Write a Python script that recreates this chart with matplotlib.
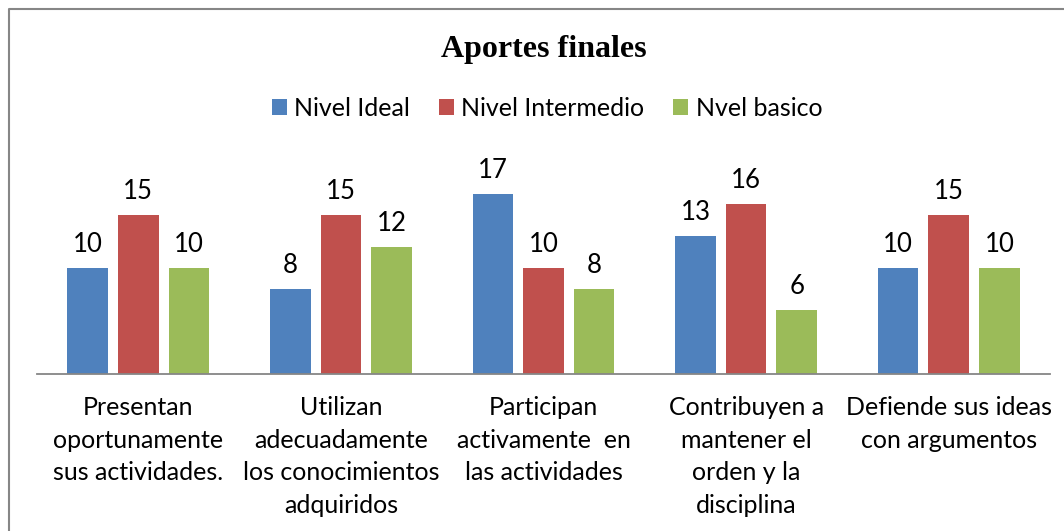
import numpy as np
import matplotlib.pyplot as plt
from matplotlib.lines import Line2D

categories = [
    "Presentan\noportunamente\nsus actividades.",
    "Utilizan\nadecuadamente\nlos conocimientos\nadquiridos",
    "Participan\nactivamente  en\nlas actividades",
    "Contribuyen a\nmantener el\norden y la\ndisciplina",
    "Defiende sus ideas\ncon argumentos",
]
series_names = ["Nivel Ideal", "Nivel Intermedio", "Nvel basico"]
nivel_ideal = [10, 8, 17, 13, 10]
nivel_intermedio = [15, 15, 10, 16, 15]
nivel_basico = [10, 12, 8, 6, 10]

colors = ["#4F81BD", "#C0504D", "#9BBB59"]
font = "Lato"

fig = plt.figure(figsize=(10.64, 5.31), dpi=100)
ax = fig.add_axes([37 / 1064, 157 / 531, 1013 / 1064, 212 / 531])

x = np.arange(len(categories))
offsets = [-0.25, 0.0, 0.25]
for vals, off, col, name in zip([nivel_ideal, nivel_intermedio, nivel_basico],
                                offsets, colors, series_names):
    bars = ax.bar(x + off, vals, width=0.2, color=col, label=name)
    for b, v in zip(bars, vals):
        ax.annotate(f"{v}", (b.get_x() + b.get_width() / 2, v),
                    xytext=(0, 8), textcoords="offset points",
                    ha="center", va="bottom", fontsize=18.5, family=font)

ax.set_xlim(-0.5, 4.5)
ax.set_ylim(0, 20)
ax.set_yticks([])
ax.set_xticks(x)
ax.set_xticklabels(categories, fontsize=18, family=font, linespacing=1.5,
                   va="top")
ax.tick_params(axis="x", length=0, pad=16)
for s in ["top", "right", "left"]:
    ax.spines[s].set_visible(False)
ax.spines["bottom"].set_color("#868686")
ax.spines["bottom"].set_linewidth(1.3)

fig.text(544 / 1064, 1 - 49 / 531, "Aportes finales", ha="center", va="center",
         fontsize=23, fontweight="bold", family="Liberation Serif")

fig.legend(loc="center", bbox_to_anchor=(547 / 1064, 1 - 108 / 531),
           ncol=3, frameon=False, prop={"family": font, "size": 18},
           handlelength=0.6, handleheight=0.6, handletextpad=0.3,
           columnspacing=1.15)

# chart frame: only top and left edges fall inside the image
fig.add_artist(Line2D([9 / 1064, 9 / 1064, 1.0], [0.0, 1 - 9 / 531, 1 - 9 / 531],
                      transform=fig.transFigure, color="#868686", linewidth=1.5))

fig.savefig("out.png", dpi=100)
